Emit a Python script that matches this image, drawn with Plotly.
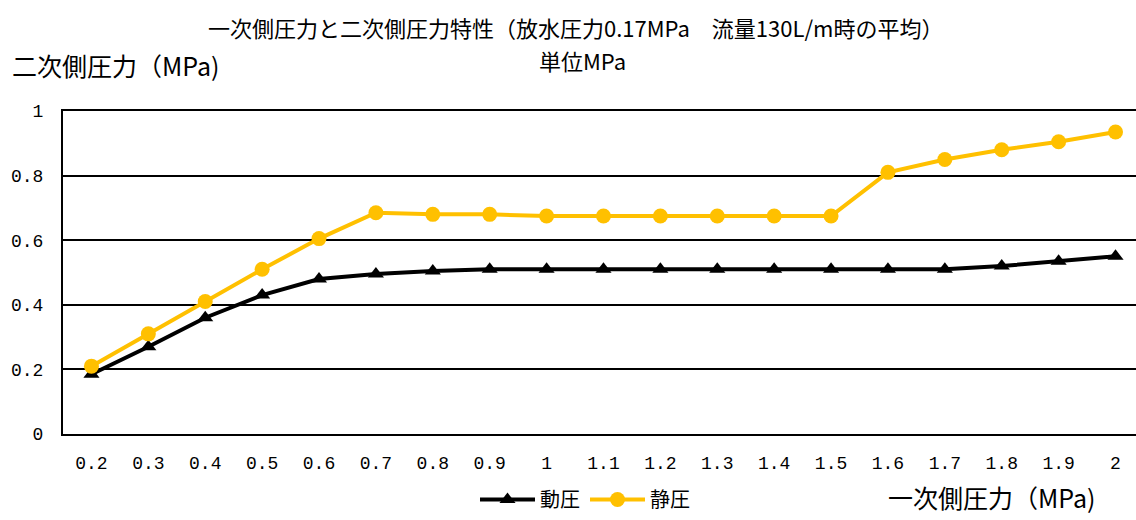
import plotly.graph_objects as go

categories = ["0.2", "0.3", "0.4", "0.5", "0.6", "0.7", "0.8", "0.9", "1", "1.1",
              "1.2", "1.3", "1.4", "1.5", "1.6", "1.7", "1.8", "1.9", "2"]
dynamic_pressure = [0.185, 0.27, 0.36, 0.43, 0.48, 0.495, 0.505, 0.51, 0.51, 0.51,
                    0.51, 0.51, 0.51, 0.51, 0.51, 0.51, 0.52, 0.535, 0.55]
static_pressure = [0.21, 0.31, 0.41, 0.51, 0.605, 0.685, 0.68, 0.68, 0.675, 0.675,
                   0.675, 0.675, 0.675, 0.675, 0.81, 0.85, 0.88, 0.905, 0.935]
y_ticks = [0, 0.2, 0.4, 0.6, 0.8, 1]
y_tick_labels = ["0", "0.2", "0.4", "0.6", "0.8", "1"]

JP = "Noto Sans CJK JP"
NUM = "Liberation Mono"

fig = go.Figure()
fig.add_trace(go.Scatter(
    x=categories, y=dynamic_pressure, name="動圧", mode="lines+markers",
    line=dict(color="#000000", width=4),
    marker=dict(symbol="triangle-up", size=14, color="#000000"),
))
fig.add_trace(go.Scatter(
    x=categories, y=static_pressure, name="静圧", mode="lines+markers",
    line=dict(color="#FFC000", width=4),
    marker=dict(symbol="circle", size=15, color="#FFC000"),
))

H = 520 - 111 - 86  # plot height in px

def py(pix):
    """paper y coordinate of a pixel row"""
    return (520 - 86 - pix) / H

W = 1136 - 63

def px(pix):
    return (pix - 63) / W

fig.update_layout(
    width=1136, height=520,
    margin=dict(l=63, r=0, t=111, b=86, autoexpand=False),
    paper_bgcolor="white", plot_bgcolor="white",
    showlegend=True,
    legend=dict(
        orientation="h", x=px(585), xanchor="center", y=py(519), yanchor="bottom",
        font=dict(family=JP, size=20, color="#000000"),
        bgcolor="rgba(0,0,0,0)", itemwidth=55,
    ),
    xaxis=dict(
        type="category", range=[-0.5, 18.36], automargin=False,
        showline=True, linecolor="#000000", linewidth=2, mirror=True,
        showgrid=False, ticks="", ticklabelstandoff=11,
        tickfont=dict(family=NUM, size=18, color="#000000"),
    ),
    yaxis=dict(
        range=[0, 1], tickvals=y_ticks, ticktext=y_tick_labels, automargin=False,
        showline=True, linecolor="#000000", linewidth=2,
        showgrid=True, gridcolor="#000000", gridwidth=1.5,
        zeroline=False, ticks="", ticklabelstandoff=14,
        tickfont=dict(family=NUM, size=18, color="#000000"),
    ),
    annotations=[
        dict(text="一次側圧力と二次側圧力特性（放水圧力0.17MPa　流量130L/m時の平均）",
             xref="paper", yref="paper", x=px(575), y=py(27),
             xanchor="center", yanchor="middle", showarrow=False,
             font=dict(family=JP, size=22, color="#000000")),
        dict(text="単位MPa",
             xref="paper", yref="paper", x=px(582), y=py(60),
             xanchor="center", yanchor="middle", showarrow=False,
             font=dict(family=JP, size=22, color="#000000")),
        dict(text="二次側圧力（MPa)", xref="paper", yref="paper",
             x=px(10), y=py(65), xanchor="left", yanchor="middle", showarrow=False,
             font=dict(family=JP, size=25, color="#000000")),
        dict(text="一次側圧力（MPa)", xref="paper", yref="paper",
             x=px(1097), y=py(497), xanchor="right", yanchor="middle", showarrow=False,
             font=dict(family=JP, size=25, color="#000000")),
    ],
)

fig.write_html("out.html", config={"displayModeBar": False},
               post_script="document.body.style.margin='0';")
